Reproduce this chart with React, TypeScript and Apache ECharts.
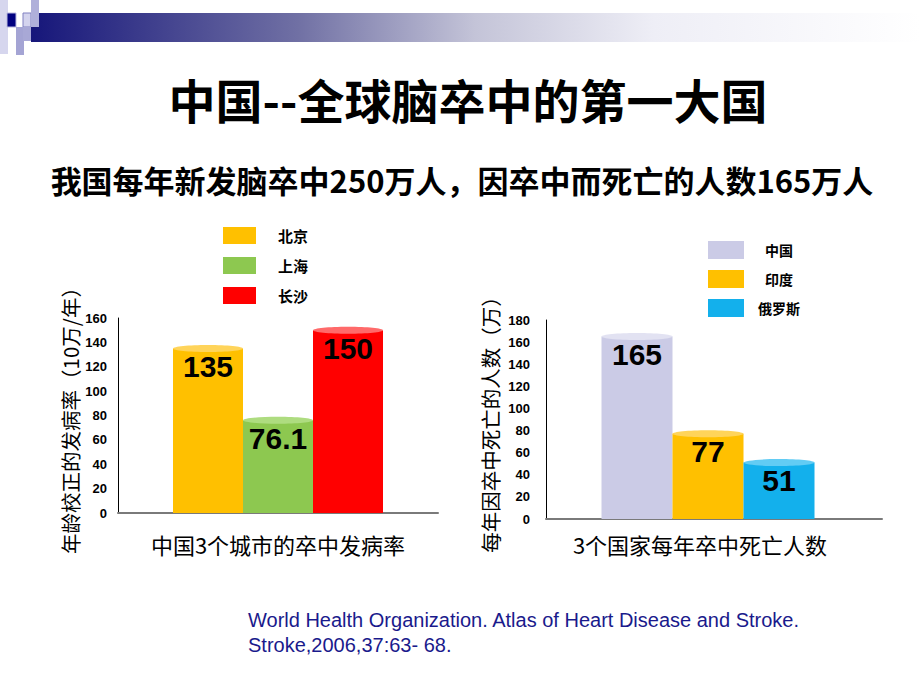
import React, { useEffect, useRef } from 'react';
import * as echarts from 'echarts';

const cityCategory = ['中国3个城市的卒中发病率'];
const cityNames = ['北京', '上海', '长沙'];
const cityValues = [135, 76.1, 150];

const countryCategory = ['3个国家每年卒中死亡人数'];
const countryNames = ['中国', '印度', '俄罗斯'];
const countryValues = [165, 77, 51];

const leftTicks = { min: 0, max: 160, interval: 20 };
const rightTicks = { min: 0, max: 180, interval: 20 };

const cityColors = ['#FFC000', '#8DC850', '#FF0000'];
const cityCaps = ['#FFD45A', '#AEDC80', '#FF6A6A'];
const countryColors = ['#CBCBE6', '#FFC000', '#13B0EC'];
const countryCaps = ['#E2E2F2', '#FFD45A', '#62CCF4'];

const CJK = '"Noto Sans CJK SC", "Noto Sans", sans-serif';
const ARIAL = '"Liberation Sans", Arial, sans-serif';

function cylinder(idx: number, n: number, barW: number, dx: number, color: string, cap: string) {
  return (params: any, api: any) => {
    const cat = api.value(0);
    const v = api.value(1);
    const top = api.coord([cat, v]);
    const base = api.coord([cat, 0]);
    const cx = top[0] + dx + (idx - (n - 1) / 2) * barW;
    const x = cx - barW / 2;
    return {
      type: 'group',
      children: [
        { type: 'rect', shape: { x, y: top[1], width: barW, height: base[1] - top[1] }, style: { fill: color } },
        { type: 'ellipse', shape: { cx, cy: top[1], rx: barW / 2, ry: 3.5 }, style: { fill: cap } },
        {
          type: 'text',
          x: cx,
          y: top[1] + 18,
          style: {
            text: String(v),
            fontSize: 30,
            fontWeight: 'bold',
            fontFamily: ARIAL,
            fill: '#000',
            align: 'center',
            verticalAlign: 'middle',
          },
        },
      ],
    };
  };
}

export default function App() {
  const ref = useRef<HTMLDivElement>(null);
  useEffect(() => {
    if (!ref.current) return;
    const chart = echarts.init(ref.current, null, { renderer: 'svg' });

    const citySeries = cityNames.map((name, i) => ({
      type: 'custom',
      name,
      xAxisIndex: 0,
      yAxisIndex: 0,
      itemStyle: { color: cityColors[i] },
      encode: { x: 0, y: 1 },
      data: [[0, cityValues[i]]],
      renderItem: cylinder(i, cityNames.length, 70, 0, cityColors[i], cityCaps[i]),
    }));
    const countrySeries = countryNames.map((name, i) => ({
      type: 'custom',
      name,
      xAxisIndex: 1,
      yAxisIndex: 1,
      itemStyle: { color: countryColors[i] },
      encode: { x: 0, y: 1 },
      data: [[0, countryValues[i]]],
      renderItem: cylinder(i, countryNames.length, 71, -6, countryColors[i], countryCaps[i]),
    }));

    const yAxisCommon = {
      type: 'value',
      splitLine: { show: false },
      axisTick: { show: false },
      axisLine: { show: true, lineStyle: { color: '#000', width: 1 } },
      nameLocation: 'middle',
      nameRotate: 90,
    };

    const option: any = {
      animation: false,
      backgroundColor: '#fff',
      textStyle: { fontFamily: ARIAL },
      grid: [
        { left: 118, right: 920 - 438, top: 318, bottom: 690 - 513 },
        { left: 546, right: 920 - 882, top: 320, bottom: 690 - 519 },
      ],
      xAxis: [
        {
          type: 'category',
          gridIndex: 0,
          data: cityCategory,
          axisTick: { show: false },
          axisLine: { lineStyle: { color: '#7a7a7a', width: 2 } },
          axisLabel: { fontSize: 22, color: '#000', margin: 20, fontFamily: CJK },
        },
        {
          type: 'category',
          gridIndex: 1,
          data: countryCategory,
          axisTick: { show: false },
          axisLine: { lineStyle: { color: '#7a7a7a', width: 2 } },
          axisLabel: { fontSize: 22, color: '#000', margin: 14, fontFamily: CJK, padding: [0, 28, 0, 0] },
        },
      ],
      yAxis: [
        {
          ...yAxisCommon,
          gridIndex: 0,
          ...leftTicks,
          name: '年龄校正的发病率（10万/年）',
          nameGap: 38,
          nameTextStyle: { fontSize: 20.5, color: '#000', fontFamily: CJK },
          axisLabel: { fontSize: 13, fontWeight: 'bold', color: '#000', margin: 11, fontFamily: ARIAL },
        },
        {
          ...yAxisCommon,
          gridIndex: 1,
          ...rightTicks,
          name: '每年因卒中死亡的人数（万）',
          nameGap: 46,
          nameTextStyle: { fontSize: 20.5, color: '#000', fontFamily: CJK },
          axisLabel: { fontSize: 13, fontWeight: 'bold', color: '#000', margin: 16, fontFamily: ARIAL },
        },
      ],
      legend: [
        {
          data: cityNames,
          orient: 'vertical',
          left: 218,
          top: 222,
          itemWidth: 33,
          itemHeight: 17,
          itemGap: 13,
          icon: 'rect',
          selectedMode: false,
          formatter: '{a|{name}}',
          textStyle: {
            rich: { a: { fontSize: 15, fontWeight: 'bold', color: '#000', fontFamily: CJK, padding: [0, 0, 0, 17] } },
          },
        },
        {
          data: countryNames,
          orient: 'vertical',
          left: 703,
          top: 236,
          itemWidth: 36,
          itemHeight: 18,
          itemGap: 11,
          icon: 'rect',
          selectedMode: false,
          formatter: '{a|{name}}',
          textStyle: {
            rich: { a: { fontSize: 14, fontWeight: 'bold', color: '#000', fontFamily: CJK, width: 60, align: 'center' } },
          },
        },
      ],
      graphic: [
        {
          type: 'rect',
          shape: { x: 31, y: 13, width: 889, height: 29 },
          style: {
            fill: new echarts.graphic.LinearGradient(0, 0, 1, 0, [
              { offset: 0, color: '#16167a' },
              { offset: 0.3, color: '#7070a4' },
              { offset: 0.5, color: '#c4c4d8' },
              { offset: 0.7, color: '#eeeef6' },
              { offset: 1, color: '#ffffff' },
            ]),
          },
        },
        { type: 'rect', shape: { x: 0, y: 0, width: 8, height: 54 }, style: { fill: '#d6d6ee' } },
        { type: 'rect', shape: { x: 7, y: 13, width: 9, height: 14 }, style: { fill: '#000080', stroke: '#b8b8e0', lineWidth: 1 } },
        { type: 'rect', shape: { x: 16, y: 27, width: 8, height: 28 }, style: { fill: '#a4a4d4' } },
        { type: 'rect', shape: { x: 23, y: 13, width: 8, height: 14 }, style: { fill: '#d4d4ee', stroke: '#8080c0', lineWidth: 1 } },
        { type: 'rect', shape: { x: 23, y: 27, width: 8, height: 14 }, style: { fill: '#a8a8d6' } },
        { type: 'rect', shape: { x: 31, y: 0, width: 8, height: 27 }, style: { fill: '#b0b0da' } },
        {
          type: 'text',
          x: 468,
          y: 98,
          style: {
            text: '中国--全球脑卒中的第一大国',
            fontSize: 47,
            fontWeight: 'bold',
            fontFamily: CJK,
            fill: '#000',
            align: 'center',
            verticalAlign: 'middle',
          },
        },
        {
          type: 'text',
          x: 462,
          y: 179,
          style: {
            text: '我国每年新发脑卒中250万人，因卒中而死亡的人数165万人',
            fontSize: 31,
            fontWeight: 'bold',
            fontFamily: CJK,
            fill: '#000',
            align: 'center',
            verticalAlign: 'middle',
          },
        },
        {
          type: 'text',
          x: 248,
          y: 620,
          style: {
            text: 'World Health Organization. Atlas of Heart Disease and Stroke.',
            fontSize: 20,
            fontFamily: ARIAL,
            fill: '#1a1a8c',
            align: 'left',
            verticalAlign: 'middle',
          },
        },
        {
          type: 'text',
          x: 248,
          y: 645,
          style: {
            text: 'Stroke,2006,37:63- 68.',
            fontSize: 20,
            fontFamily: ARIAL,
            fill: '#1a1a8c',
            align: 'left',
            verticalAlign: 'middle',
          },
        },
      ],
      series: [...citySeries, ...countrySeries],
    };

    chart.setOption(option);
    return () => chart.dispose();
  }, []);

  return <div ref={ref} style={{ position: 'absolute', left: 0, top: 0, width: 920, height: 690 }} />;
}
